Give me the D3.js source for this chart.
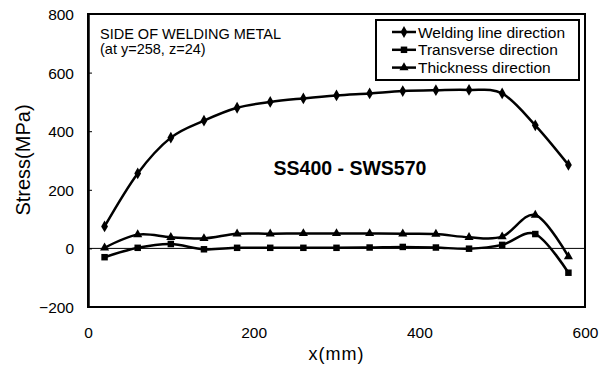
<!DOCTYPE html>
<html>
<head>
<meta charset="utf-8">
<script src="https://cdn.jsdelivr.net/npm/d3@7"></script>
<style>
  body { margin: 0; background: #fff; }
  svg { font-family: "Liberation Sans", Arial, sans-serif; }
</style>
</head>
<body>
<svg class="chart"></svg>
<script>
// positions along the weld (mm)
var xs = [20, 60, 100, 140, 180, 220, 260, 300, 340, 380, 420, 460, 500, 540, 580];
var welding = [75, 256, 378, 436, 480, 500, 512, 522, 529, 537, 540, 541, 529, 420, 285];
var transverse = [-30, 2, 15, -3, 2, 2, 2, 2, 3, 5, 3, -1, 12, 49, -83];
var thickness = [2, 47, 38, 34, 50, 50, 51, 51, 51, 50, 49, 38, 40, 114, -28];
var seriesNames = ["Welding line direction", "Transverse direction", "Thickness direction"];
var xTicks = [0, 200, 400, 600];
var yTicks = [-200, 0, 200, 400, 600, 800];

var W = 604, H = 367;
var margin = {top: 14, right: 19, bottom: 60, left: 88},
  width = W - margin.left - margin.right,
  height = H - margin.top - margin.bottom;

var x = d3.scaleLinear().domain([0, 600]).range([0, width]);
var y = d3.scaleLinear().domain([-200, 800]).range([height, 0]);

var svg = d3.select(".chart").attr("width", W).attr("height", H);
var chart = svg.append("g")
  .attr("transform", "translate(" + margin.left + "," + margin.top + ")");

// zero line
chart.append("line")
  .attr("x1", 0).attr("x2", width)
  .attr("y1", y(0)).attr("y2", y(0))
  .attr("stroke", "#000").attr("stroke-width", 1);

// frame
chart.append("rect")
  .attr("width", width).attr("height", height)
  .attr("fill", "none").attr("stroke", "#000").attr("stroke-width", 2);

var yAxis = d3.axisLeft(y).tickValues(yTicks).tickSizeInner(-4).tickSizeOuter(0).tickPadding(14)
  .tickFormat(d => d < 0 ? "\u2212" + Math.abs(d) : d);
var gy = chart.append("g").attr("class", "y axis").call(yAxis);
gy.select(".domain").attr("stroke-width", 2.5);
gy.selectAll("text").attr("font-size", 15.5).attr("fill", "#000").attr("dy", "0.36em");

var xAxis = d3.axisBottom(x).tickValues(xTicks).tickSize(0).tickPadding(20);
var gx = chart.append("g").attr("class", "x axis")
  .attr("transform", "translate(0," + height + ")").call(xAxis);
gx.select(".domain").remove();
gx.selectAll("text").attr("font-size", 15.5).attr("fill", "#000");

var series = [
  {name: seriesNames[0], values: welding, sym: d3.symbolDiamond, size: 40},
  {name: seriesNames[1], values: transverse, sym: d3.symbolSquare, size: 42},
  {name: seriesNames[2], values: thickness, sym: d3.symbolTriangle, size: 36}
];

var line = d3.line()
  .x((d, i) => x(xs[i]))
  .y(d => y(d))
  .curve(d3.curveCatmullRom.alpha(0));

series.forEach(function(s) {
  chart.append("path")
    .datum(s.values)
    .attr("fill", "none")
    .attr("stroke", "#000")
    .attr("stroke-width", 2.5)
    .attr("stroke-linejoin", "round")
    .attr("d", line);
  chart.selectAll(null)
    .data(s.values)
    .enter().append("path")
    .attr("transform", (d, i) => "translate(" + x(xs[i]) + "," + y(d) + ")")
    .attr("d", d3.symbol().type(s.sym).size(s.size))
    .attr("fill", "#000");
});

// legend
var leg = svg.append("g").attr("transform", "translate(376,20)");
leg.append("rect").attr("width", 203).attr("height", 60)
  .attr("fill", "#fff").attr("stroke", "#000").attr("stroke-width", 2);
series.forEach(function(s, i) {
  var ly = 12 + i * 17.8;
  leg.append("line").attr("x1", 16).attr("x2", 40).attr("y1", ly).attr("y2", ly)
    .attr("stroke", "#000").attr("stroke-width", 2.5);
  leg.append("path").attr("transform", "translate(28," + ly + ")")
    .attr("d", d3.symbol().type(s.sym).size(s.size)).attr("fill", "#000");
  leg.append("text").attr("x", 42).attr("y", ly).attr("dy", "0.36em")
    .attr("font-size", 15.5).text(s.name);
});

// annotations
svg.append("text").attr("x", 100).attr("y", 38.5).attr("font-size", 14.5)
  .text("SIDE OF WELDING METAL");
svg.append("text").attr("x", 100).attr("y", 54).attr("font-size", 14.5)
  .text("(at y=258, z=24)");
svg.append("text").attr("x", 350).attr("y", 175).attr("font-size", 19.5)
  .attr("font-weight", "bold").attr("text-anchor", "middle")
  .text("SS400 - SWS570");

// axis titles
svg.append("text")
  .attr("transform", "translate(30,160) rotate(-90)")
  .attr("text-anchor", "middle").attr("font-size", 20)
  .text("Stress(MPa)");
svg.append("text")
  .attr("x", margin.left + width / 2).attr("y", 360)
  .attr("text-anchor", "middle").attr("font-size", 18).attr("letter-spacing", 1)
  .text("x(mm)");
</script>
</body>
</html>
